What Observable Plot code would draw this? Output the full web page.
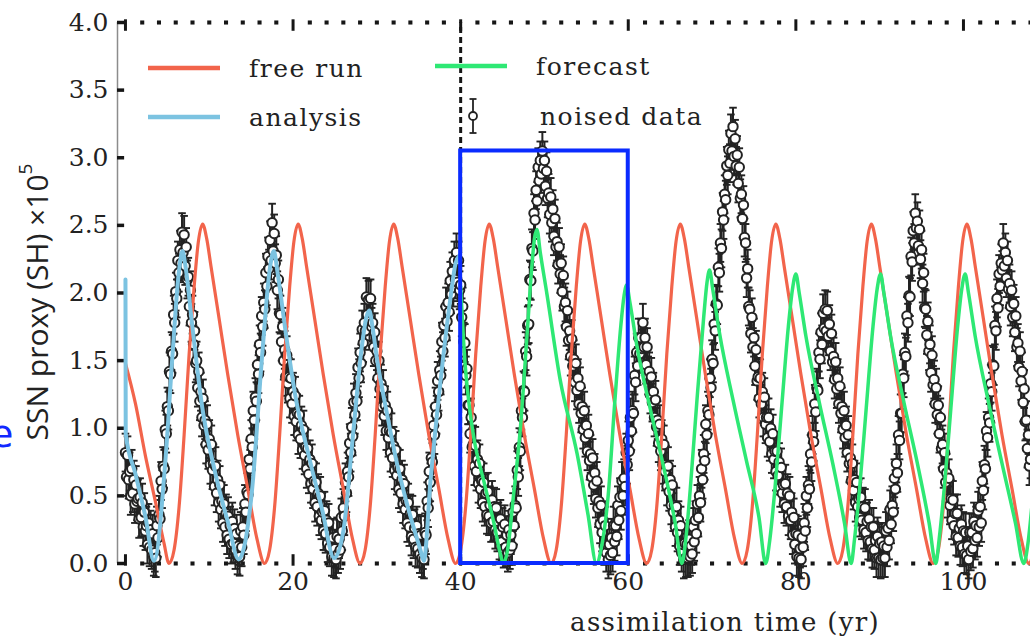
<!DOCTYPE html>
<html><head><meta charset="utf-8">
<script src="https://cdn.jsdelivr.net/npm/d3@7"></script>
<script src="https://cdn.jsdelivr.net/npm/@observablehq/plot@0.6"></script>
<style>
body{margin:0;background:#fff;}
#wrap{position:relative;width:1030px;height:639px;overflow:hidden;background:#fff;}
#edge{position:absolute;left:-10px;top:412px;font:38px "DejaVu Sans",sans-serif;color:#1228ff;}
</style></head><body>
<div id="wrap"><div id="edge">e</div></div>
<script>
// ---------- data ----------
const xTicks = [0, 20, 40, 60, 80, 100];
const yTicks = [0, 0.5, 1, 1.5, 2, 2.5, 3, 3.5, 4];
const dotYears = [2,4,6,8,10,12,14,16,18,22,24,26,28,30,32,34,36,38,42,44,46,48,50,52,54,56,58,62,64,66,68,70,72,74,76,78,82,84,86,88,90,92,94,96,98,102,104,106,108];
const assimilationEnd = [40];
const box = [{x1: 40, x2: 60, y1: 0, y2: 3.05}];

const freeRunT = [0,1.2,2.4,3.6,4.6,5.2,
 5.8,6.4,7.0,7.6,8.2,8.7,9.2,9.7,10.2,11.2,12.2,13.4,14.6,15.7,16.6,
 17.2,17.8,18.4,19.0,19.6,20.1,20.6,21.1,21.6,22.6,23.6,24.8,26.0,27.1,28.0,
 28.6,29.2,29.8,30.4,31.0,31.5,32.0,32.5,33.0,34.0,35.0,36.2,37.4,38.5,39.4,
 40.0,40.6,41.2,41.8,42.4,42.9,43.4,43.9,44.4,45.4,46.4,47.6,48.8,49.9,50.8,
 51.4,52.0,52.6,53.2,53.8,54.3,54.8,55.3,55.8,56.8,57.8,59.0,60.2,61.3,62.2,
 62.8,63.4,64.0,64.6,65.2,65.7,66.2,66.7,67.2,68.2,69.2,70.4,71.6,72.7,73.6,
 74.2,74.8,75.4,76.0,76.6,77.1,77.6,78.1,78.6,79.6,80.6,81.8,83.0,84.1,85.0,
 85.6,86.2,86.8,87.4,88.0,88.5,89.0,89.5,90.0,91.0,92.0,93.2,94.4,95.5,96.4,
 97.0,97.6,98.2,98.8,99.4,99.9,100.4,100.9,101.4,102.4,103.4,104.6,105.8,106.9,107.8,
 108.4];
const freeRunV = [1.48,1.18,0.79,0.45,0.15,0,
 0.10,0.42,0.95,1.55,2.05,2.38,2.51,2.40,2.20,1.80,1.40,0.95,0.55,0.18,0,
 0.10,0.42,0.95,1.55,2.05,2.38,2.51,2.40,2.20,1.80,1.40,0.95,0.55,0.18,0,
 0.10,0.42,0.95,1.55,2.05,2.38,2.51,2.40,2.20,1.80,1.40,0.95,0.55,0.18,0,
 0.10,0.42,0.95,1.55,2.05,2.38,2.51,2.40,2.20,1.80,1.40,0.95,0.55,0.18,0,
 0.10,0.42,0.95,1.55,2.05,2.38,2.51,2.40,2.20,1.80,1.40,0.95,0.55,0.18,0,
 0.10,0.42,0.95,1.55,2.05,2.38,2.51,2.40,2.20,1.80,1.40,0.95,0.55,0.18,0,
 0.10,0.42,0.95,1.55,2.05,2.38,2.51,2.40,2.20,1.80,1.40,0.95,0.55,0.18,0,
 0.10,0.42,0.95,1.55,2.05,2.38,2.51,2.40,2.20,1.80,1.40,0.95,0.55,0.18,0,
 0.10,0.42,0.95,1.55,2.05,2.38,2.51,2.40,2.20,1.80,1.40,0.95,0.55,0.18,0,
 0.10];

const analysisT = [0,0.03,1.2,2.4,3.4,4.8,5.6,6.35,6.8,7.2,7.95,9.15,10.75,12.3,13.5,15.1,16.3,17.25,17.7,18.15,19.1,20.3,21.9,23.5,24.9,26.0,27.2,28.2,28.75,29.1,29.5,30.0,31.2,32.4,33.6,35.2,35.6,36.4,37.6,38.8,39.4,39.9];
const analysisV = [2.10,0.96,0.66,0.34,0.02,0.79,1.53,2.14,2.31,2.18,1.77,1.16,0.66,0.29,0.03,0.54,1.53,2.19,2.31,2.15,1.72,1.23,0.79,0.39,0.04,0.24,0.98,1.60,1.82,1.87,1.74,1.52,1.11,0.74,0.44,0.10,0.02,0.61,1.35,1.97,2.22,2.28];

const forecastT = [40.0,40.5,41.0,41.6,42.8,44.0,44.7,45.1,
 45.6,46.3,47.1,47.9,48.5,48.8,49.1,49.5,50.3,51.9,53.9,55.2,56.2,
 56.8,57.6,58.4,59.1,59.5,59.8,60.2,61.0,62.6,64.2,65.6,66.4,
 66.9,67.4,68.2,69.0,69.4,69.7,70.1,70.9,72.5,74.1,75.6,76.4,
 76.9,77.5,78.3,79.1,79.6,80.0,80.4,81.2,82.8,84.4,85.8,86.6,
 87.0,87.6,88.4,89.2,89.7,90.1,90.5,91.3,92.9,94.5,95.9,96.7,
 97.1,97.7,98.5,99.3,99.8,100.2,100.6,101.4,103.0,104.6,106.2,107.2,
 107.7,108.2];
const forecastV = [2.05,1.5,1.18,0.92,0.6,0.29,0.08,0,
 0.1,0.5,0.98,1.67,2.2,2.40,2.47,2.30,1.99,1.35,0.81,0.36,0,
 0.12,0.5,1.2,1.75,1.98,2.06,1.93,1.62,1.15,0.72,0.3,0,
 0.2,0.55,1.21,1.82,2.08,2.17,2.02,1.70,1.21,0.76,0.34,0,
 0.18,0.55,1.15,1.75,2.03,2.14,2.0,1.68,1.19,0.74,0.3,0,
 0.18,0.55,1.15,1.75,2.03,2.14,2.0,1.68,1.19,0.74,0.3,0,
 0.18,0.55,1.15,1.75,2.03,2.14,2.0,1.68,1.19,0.74,0.3,0,
 0.15,0.45];

// noised data: one sample every 1/8 yr starting at t = 0
const noisedStart = 0;
const noisedStep = 0.125;
const noisedSigma = 0.14;
const noisedV = [
0.82,0.64,0.80,0.62,0.68,0.50,0.70,0.52, 0.62,0.44,0.58,0.46,0.48,0.33,0.49,0.34,
0.45,0.27,0.38,0.24,0.28,0.14,0.30,0.12, 0.25,0.10,0.22,0.05,0.08,0.04,0.28,0.19,
0.36,0.33,0.61,0.55,0.72,0.70,0.99,0.96, 1.16,1.13,1.42,1.40,1.57,1.55,1.84,1.78,
2.01,1.96,2.24,2.15,2.32,2.22,2.45,2.30, 2.43,2.20,2.34,2.10,2.12,1.90,2.02,1.78,
1.84,1.62,1.72,1.48,1.50,1.30,1.42,1.20, 1.27,1.08,1.22,1.02,1.06,0.88,1.03,0.84,
0.92,0.73,0.88,0.69,0.74,0.57,0.72,0.52, 0.62,0.45,0.58,0.40,0.46,0.30,0.44,0.27,
0.37,0.21,0.35,0.18,0.28,0.14,0.31,0.15, 0.26,0.10,0.22,0.06,0.13,0.05,0.24,0.12,
0.27,0.21,0.44,0.38,0.53,0.51,0.77,0.70, 0.92,0.86,1.13,1.06,1.23,1.20,1.47,1.40,
1.62,1.56,1.83,1.75,1.93,1.88,2.15,2.05, 2.27,2.18,2.39,2.24,2.52,2.31,2.44,2.22,
2.28,2.02,2.10,1.85,1.84,1.64,1.75,1.50, 1.58,1.38,1.54,1.33,1.38,1.22,1.37,1.18,
1.27,1.09,1.24,1.05,1.11,0.95,1.10,0.92, 1.02,0.84,0.99,0.80,0.86,0.70,0.85,0.66,
0.77,0.59,0.74,0.55,0.61,0.45,0.60,0.42, 0.52,0.35,0.50,0.32,0.38,0.24,0.39,0.22,
0.32,0.15,0.30,0.12,0.18,0.05,0.19,0.04, 0.11,0.03,0.20,0.07,0.18,0.10,0.34,0.24,
0.41,0.35,0.60,0.52,0.68,0.64,0.89,0.82, 1.01,0.94,1.19,1.10,1.26,1.20,1.45,1.37,
1.56,1.48,1.73,1.63,1.78,1.72,1.97,1.84, 1.95,1.79,1.96,1.75,1.78,1.60,1.71,1.50,
1.57,1.37,1.50,1.29,1.33,1.16,1.29,1.09, 1.17,0.98,1.13,0.93,0.98,0.82,0.97,0.78,
0.87,0.69,0.84,0.65,0.71,0.55,0.70,0.52, 0.62,0.44,0.59,0.40,0.46,0.30,0.45,0.27,
0.37,0.20,0.36,0.18,0.26,0.12,0.28,0.11, 0.22,0.07,0.21,0.04,0.10,0.03,0.23,0.21,
0.46,0.41,0.68,0.60,0.78,0.75,1.02,0.95, 1.16,1.10,1.35,1.27,1.43,1.39,1.64,1.57,
1.76,1.67,1.90,1.79,1.93,1.86,2.09,1.99, 2.16,2.04,2.24,2.10,2.30,2.08,2.24,2.02,
2.06,1.82,1.90,1.64,1.63,1.39,1.44,1.17, 1.17,0.96,1.08,0.86,0.88,0.72,0.87,0.68,
0.77,0.59,0.74,0.55,0.61,0.45,0.60,0.42, 0.52,0.36,0.53,0.35,0.43,0.30,0.47,0.31,
0.42,0.25,0.41,0.23,0.31,0.17,0.33,0.16, 0.27,0.11,0.29,0.12,0.21,0.08,0.25,0.10,
0.21,0.13,0.38,0.28,0.43,0.41,0.69,0.64, 0.86,0.83,1.13,1.08,1.28,1.27,1.57,1.53,
1.76,1.77,2.10,2.09,2.33,2.31,2.59,2.54, 2.76,2.68,2.93,2.83,2.98,2.88,3.05,2.92,
2.98,2.79,2.90,2.70,2.74,2.58,2.71,2.52, 2.62,2.42,2.55,2.34,2.38,2.21,2.34,2.14,
2.22,2.01,2.13,1.90,1.93,1.75,1.87,1.65, 1.72,1.53,1.66,1.46,1.51,1.34,1.48,1.28,
1.37,1.18,1.31,1.11,1.16,0.99,1.13,0.93, 1.02,0.83,0.96,0.76,0.81,0.64,0.78,0.58,
0.67,0.48,0.61,0.41,0.46,0.29,0.43,0.23, 0.32,0.13,0.28,0.08,0.14,0.03,0.14,0.06,
0.19,0.08,0.28,0.16,0.28,0.20,0.43,0.32, 0.49,0.39,0.61,0.50,0.63,0.57,0.82,0.73,
0.91,0.83,1.08,0.98,1.13,1.11,1.39,1.34, 1.56,1.46,1.67,1.55,1.67,1.59,1.78,1.60,
1.67,1.47,1.60,1.39,1.42,1.25,1.38,1.19, 1.27,1.08,1.21,1.01,1.06,0.89,1.03,0.83,
0.92,0.73,0.88,0.68,0.73,0.57,0.72,0.53, 0.62,0.43,0.58,0.38,0.43,0.27,0.42,0.23,
0.32,0.13,0.28,0.08,0.14,0.03,0.15,0.04, 0.14,0.04,0.18,0.05,0.13,0.07,0.27,0.16,
0.32,0.22,0.44,0.34,0.50,0.45,0.70,0.62, 0.81,0.76,1.03,0.95,1.13,1.10,1.37,1.30,
1.51,1.48,1.77,1.72,1.92,1.91,2.19,2.15, 2.37,2.33,2.60,2.54,2.73,2.69,2.94,2.87,
3.06,2.96,3.18,3.05,3.23,3.01,3.14,2.94, 3.02,2.81,2.93,2.70,2.73,2.55,2.65,2.41,
2.37,2.11,2.18,1.90,1.88,1.70,1.82,1.60, 1.67,1.46,1.58,1.35,1.38,1.22,1.37,1.18,
1.27,1.08,1.23,1.03,1.08,0.93,1.08,0.90, 1.00,0.81,0.96,0.77,0.83,0.68,0.83,0.65,
0.75,0.56,0.71,0.52,0.58,0.44,0.59,0.42, 0.52,0.35,0.50,0.32,0.38,0.21,0.34,0.14,
0.22,0.05,0.21,0.04,0.11,0.03,0.19,0.12, 0.30,0.24,0.50,0.41,0.58,0.55,0.81,0.75,
0.95,0.90,1.18,1.12,1.30,1.28,1.56,1.51, 1.71,1.62,1.85,1.74,1.88,1.72,1.87,1.68,
1.77,1.57,1.70,1.49,1.53,1.36,1.49,1.29, 1.37,1.18,1.31,1.11,1.16,0.99,1.13,0.93,
1.02,0.82,0.95,0.74,0.78,0.61,0.74,0.54, 0.62,0.45,0.60,0.42,0.48,0.34,0.49,0.32,
0.42,0.25,0.41,0.23,0.31,0.17,0.33,0.16, 0.27,0.11,0.27,0.10,0.17,0.04,0.20,0.04,
0.15,0.03,0.16,0.04,0.13,0.04,0.24,0.12, 0.26,0.17,0.40,0.29,0.43,0.38,0.63,0.55,
0.74,0.67,0.95,0.91,1.11,1.11,1.40,1.37, 1.56,1.53,1.83,1.78,1.98,1.97,2.27,2.23,
2.46,2.37,2.59,2.48,2.53,2.35,2.47,2.25, 2.32,2.07,2.15,1.89,1.88,1.69,1.79,1.57,
1.62,1.41,1.54,1.32,1.36,1.18,1.30,1.10, 1.17,0.96,1.08,0.85,0.88,0.70,0.82,0.60,
0.67,0.48,0.63,0.43,0.48,0.32,0.47,0.28, 0.37,0.20,0.37,0.19,0.26,0.13,0.29,0.12,
0.24,0.07,0.23,0.06,0.13,0.03,0.23,0.09, 0.23,0.11,0.31,0.17,0.28,0.19,0.39,0.27,
0.42,0.30,0.61,0.54,0.73,0.70,0.98,0.93, 1.08,1.04,1.33,1.27,1.47,1.46,1.76,1.72,
1.96,1.89,2.14,2.05,2.22,2.17,2.37,2.20, 2.30,2.11,2.24,2.03,2.07,1.90,2.02,1.82,
1.92,1.71,1.83,1.60,1.63,1.45,1.57,1.35, 1.42,1.19,1.29,1.05,1.06,0.85,0.95,0.72,
0.77];

// ---------- tables for the library ----------
const freeRun = freeRunT.map((t, i) => ({t, v: freeRunV[i]}));
const analysis = analysisT.map((t, i) => ({t, v: analysisV[i]}));
const forecast = forecastT.map((t, i) => ({t, v: forecastV[i]}));
const noised = noisedV.map((v, i) => ({t: noisedStart + i * noisedStep, v}));

const C = {red: "#f2644b", blue: "#7cc3e1", green: "#2ee874", data: "#232323", box: "#0a2bff", ink: "#161616"};
const serif = "DejaVu Serif, serif";
const capSymbol = {draw(ctx, size) { const w = Math.sqrt(size / Math.PI); ctx.moveTo(-w, 0); ctx.lineTo(w, 0); }};

const plot = Plot.plot({
  width: 1030, height: 639,
  marginLeft: 117, marginRight: 0, marginTop: 22, marginBottom: 76,
  x: {domain: [-0.95, 108]},
  y: {domain: [0, 4]},
  style: {background: "white", fontFamily: serif, fontSize: "25px", color: "#222", overflow: "visible"},
  marks: [
    Plot.axisX(xTicks, {tickSize: 0, tickPadding: 9, label: null, fontSize: 25, fontFamily: serif, fill: "#222"}),
    Plot.axisY(yTicks, {tickSize: 0, tickPadding: 9, label: null, tickFormat: d3.format(".1f"), fontSize: 25, fontFamily: serif, fill: "#222"}),
    Plot.ruleX([-0.95], {y1: 0, y2: 4, stroke: "#8c8c8c", strokeWidth: 1.5}),
    Plot.ruleY(yTicks, {x1: -0.95, x2: -0.1, stroke: C.ink, strokeWidth: 3.5}),
    Plot.dot(dotYears, {x: d => d, y: 4, symbol: "square", r: 2.3, fill: C.ink, stroke: null}),
    Plot.dot(dotYears, {x: d => d, y: 0, symbol: "square", r: 2.3, fill: C.ink, stroke: null}),
    Plot.ruleX(xTicks, {y1: 4.02, y2: 3.935, stroke: C.ink, strokeWidth: 3}),
    Plot.ruleX(xTicks, {y1: -0.02, y2: 0.065, stroke: C.ink, strokeWidth: 3}),
    Plot.ruleX(assimilationEnd, {y1: 0, y2: 4, stroke: C.ink, strokeWidth: 3, strokeDasharray: "6,4"}),
    // noised data with error bars
    Plot.ruleX(noised, {x: "t", y1: d => d.v - noisedSigma, y2: d => d.v + noisedSigma, stroke: C.data, strokeWidth: 2}),
    Plot.dot(noised, {x: "t", y: d => d.v + noisedSigma, symbol: capSymbol, r: 3.8, stroke: C.data, strokeWidth: 1.9, fill: null}),
    Plot.dot(noised, {x: "t", y: d => d.v - noisedSigma, symbol: capSymbol, r: 3.8, stroke: C.data, strokeWidth: 1.9, fill: null}),
    Plot.dot(noised, {x: "t", y: "v", r: 4.7, fill: "white", stroke: C.data, strokeWidth: 2}),
    // model curves
    Plot.line(freeRun, {x: "t", y: "v", stroke: C.red, strokeWidth: 3.2, curve: "monotone-x"}),
    Plot.line(analysis, {x: "t", y: "v", stroke: C.blue, strokeWidth: 4, curve: "monotone-x"}),
    Plot.line(forecast, {x: "t", y: "v", stroke: C.green, strokeWidth: 3.5, curve: "monotone-x"}),
    Plot.rect(box, {x1: "x1", x2: "x2", y1: "y1", y2: "y2", fill: "none", stroke: C.box, strokeWidth: 4})
  ]
});

const svg = d3.select(plot);
// axis titles
svg.append("text").attr("x", 725).attr("y", 631).attr("text-anchor", "middle")
  .attr("font-family", serif).attr("font-size", 26).attr("letter-spacing", "1.3px").attr("fill", "#222")
  .text("assimilation time (yr)");
const yl = svg.append("text").attr("transform", "translate(36,302) rotate(-90)").attr("text-anchor", "middle")
  .attr("dominant-baseline", "central").attr("font-family", "Open Sans, sans-serif").attr("font-size", 30).attr("fill", "#222");
yl.append("tspan").text("SSN proxy (SH) \u00d710");
yl.append("tspan").attr("dy", -11).attr("font-size", 19).text("5");

// legend
const legendItems = [
  {label: "free run", kind: "line", color: C.red, x: 148, y: 68},
  {label: "analysis", kind: "line", color: C.blue, x: 148, y: 117},
  {label: "forecast", kind: "line", color: C.green, x: 435, y: 66},
  {label: "noised data", kind: "data", color: C.data, x: 435, y: 116}
];
const lg = svg.append("g").attr("text-anchor", "start");
for (const it of legendItems) {
  if (it.kind === "line") {
    lg.append("line").attr("x1", it.x).attr("x2", it.x + 72).attr("y1", it.y).attr("y2", it.y)
      .attr("stroke", it.color).attr("stroke-width", 4.5);
  } else {
    const cx = it.x + 38;
    lg.append("line").attr("x1", cx).attr("x2", cx).attr("y1", it.y - 17).attr("y2", it.y + 17).attr("stroke", it.color).attr("stroke-width", 1.8);
    lg.append("line").attr("x1", cx - 3.5).attr("x2", cx + 3.5).attr("y1", it.y - 17).attr("y2", it.y - 17).attr("stroke", it.color).attr("stroke-width", 1.8);
    lg.append("line").attr("x1", cx - 3.5).attr("x2", cx + 3.5).attr("y1", it.y + 17).attr("y2", it.y + 17).attr("stroke", it.color).attr("stroke-width", 1.8);
    lg.append("circle").attr("cx", cx).attr("cy", it.y).attr("r", 4).attr("fill", "white").attr("stroke", it.color).attr("stroke-width", 1.8);
  }
  lg.append("text").attr("x", it.x + (it.kind === "line" ? 101 : 105)).attr("y", it.y).attr("dominant-baseline", "central")
    .attr("text-anchor", "start")
    .attr("font-family", serif).attr("font-size", 25).attr("letter-spacing", "1.5px").attr("fill", "#222").text(it.label);
}

document.getElementById("wrap").appendChild(plot);
</script>
</body></html>
